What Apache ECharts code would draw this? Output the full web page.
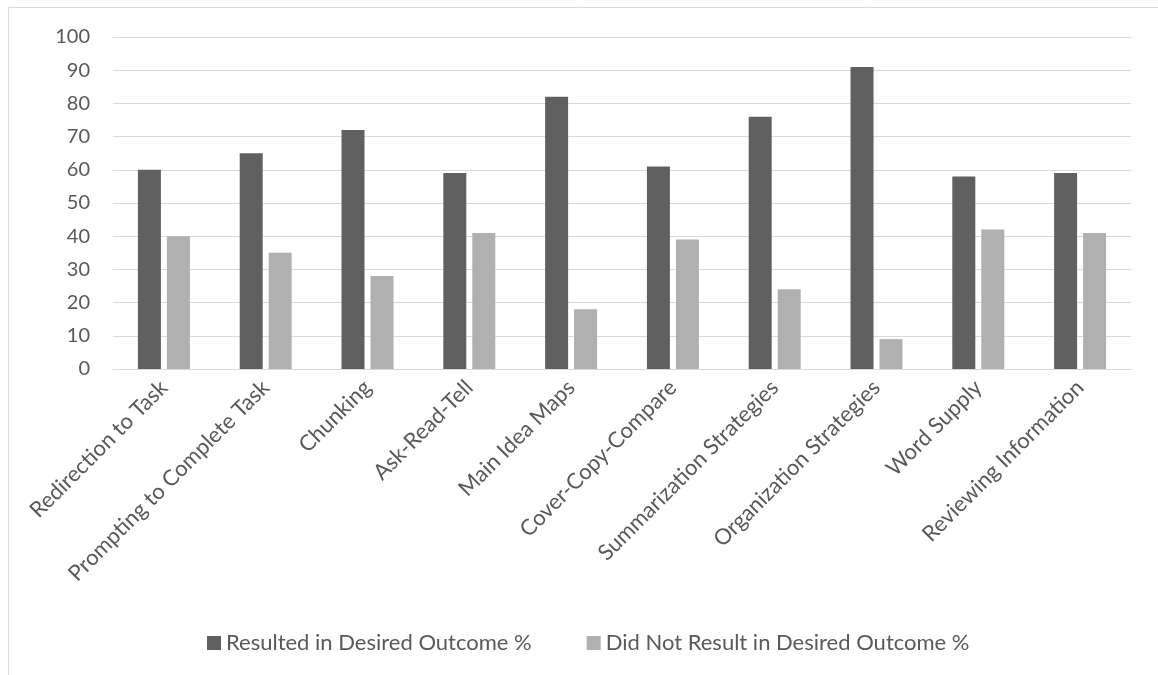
<!DOCTYPE html>
<html><head><meta charset="utf-8">
<script src="https://cdn.jsdelivr.net/npm/echarts@6/dist/echarts.min.js"></script>
<style>html,body{margin:0;padding:0;background:#fff}#c{width:1158px;height:675px}</style>
</head><body><div id="c"></div>
<script>
const categories = ["Redirection to Task","Prompting to Complete Task","Chunking","Ask-Read-Tell","Main Idea Maps","Cover-Copy-Compare","Summarization Strategies","Organization Strategies","Word Supply","Reviewing Information"];
const resulted = [60,65,72,59,82,61,76,91,58,59];
const notResulted = [40,35,28,41,18,39,24,9,42,41];
const seriesNames = ["Resulted in Desired Outcome %","Did Not Result in Desired Outcome %"];
const FONT = 'Lato, "Open Sans", sans-serif';
const chart = echarts.init(document.getElementById('c'));
chart.setOption({
  animation:false,
  textStyle:{fontFamily:FONT,color:'#595959'},
  graphic:[{type:'rect',shape:{x:8.5,y:7.5,width:1200,height:700},style:{fill:'none',stroke:'#d9d9d9',lineWidth:1},silent:true}],
  grid:{left:113,right:27,top:37,bottom:306},
  legend:{top:627,left:202,itemWidth:14,itemHeight:14,itemGap:55,icon:'rect',
    textStyle:{fontSize:22,color:'#595959',fontFamily:FONT,padding:[0,0,0,0]},data:seriesNames},
  xAxis:{type:'category',data:categories,
    axisLine:{lineStyle:{color:'#d9d9d9',width:1}},axisTick:{show:false},
    axisLabel:{rotate:45,fontSize:22,color:'#595959',fontFamily:FONT,interval:0,margin:15}},
  yAxis:{type:'value',min:0,max:100,interval:10,
    axisLine:{show:false},axisTick:{show:false},
    splitLine:{lineStyle:{color:'#d9d9d9',width:1}},
    axisLabel:{fontSize:20,color:'#595959',fontFamily:FONT,margin:23}},
  series:[
    {name:seriesNames[0],type:'bar',data:resulted,barWidth:23,barGap:'26%',itemStyle:{color:'#606060'}},
    {name:seriesNames[1],type:'bar',data:notResulted,barWidth:23,itemStyle:{color:'#b0b0b0'}}
  ]
});
</script></body></html>
